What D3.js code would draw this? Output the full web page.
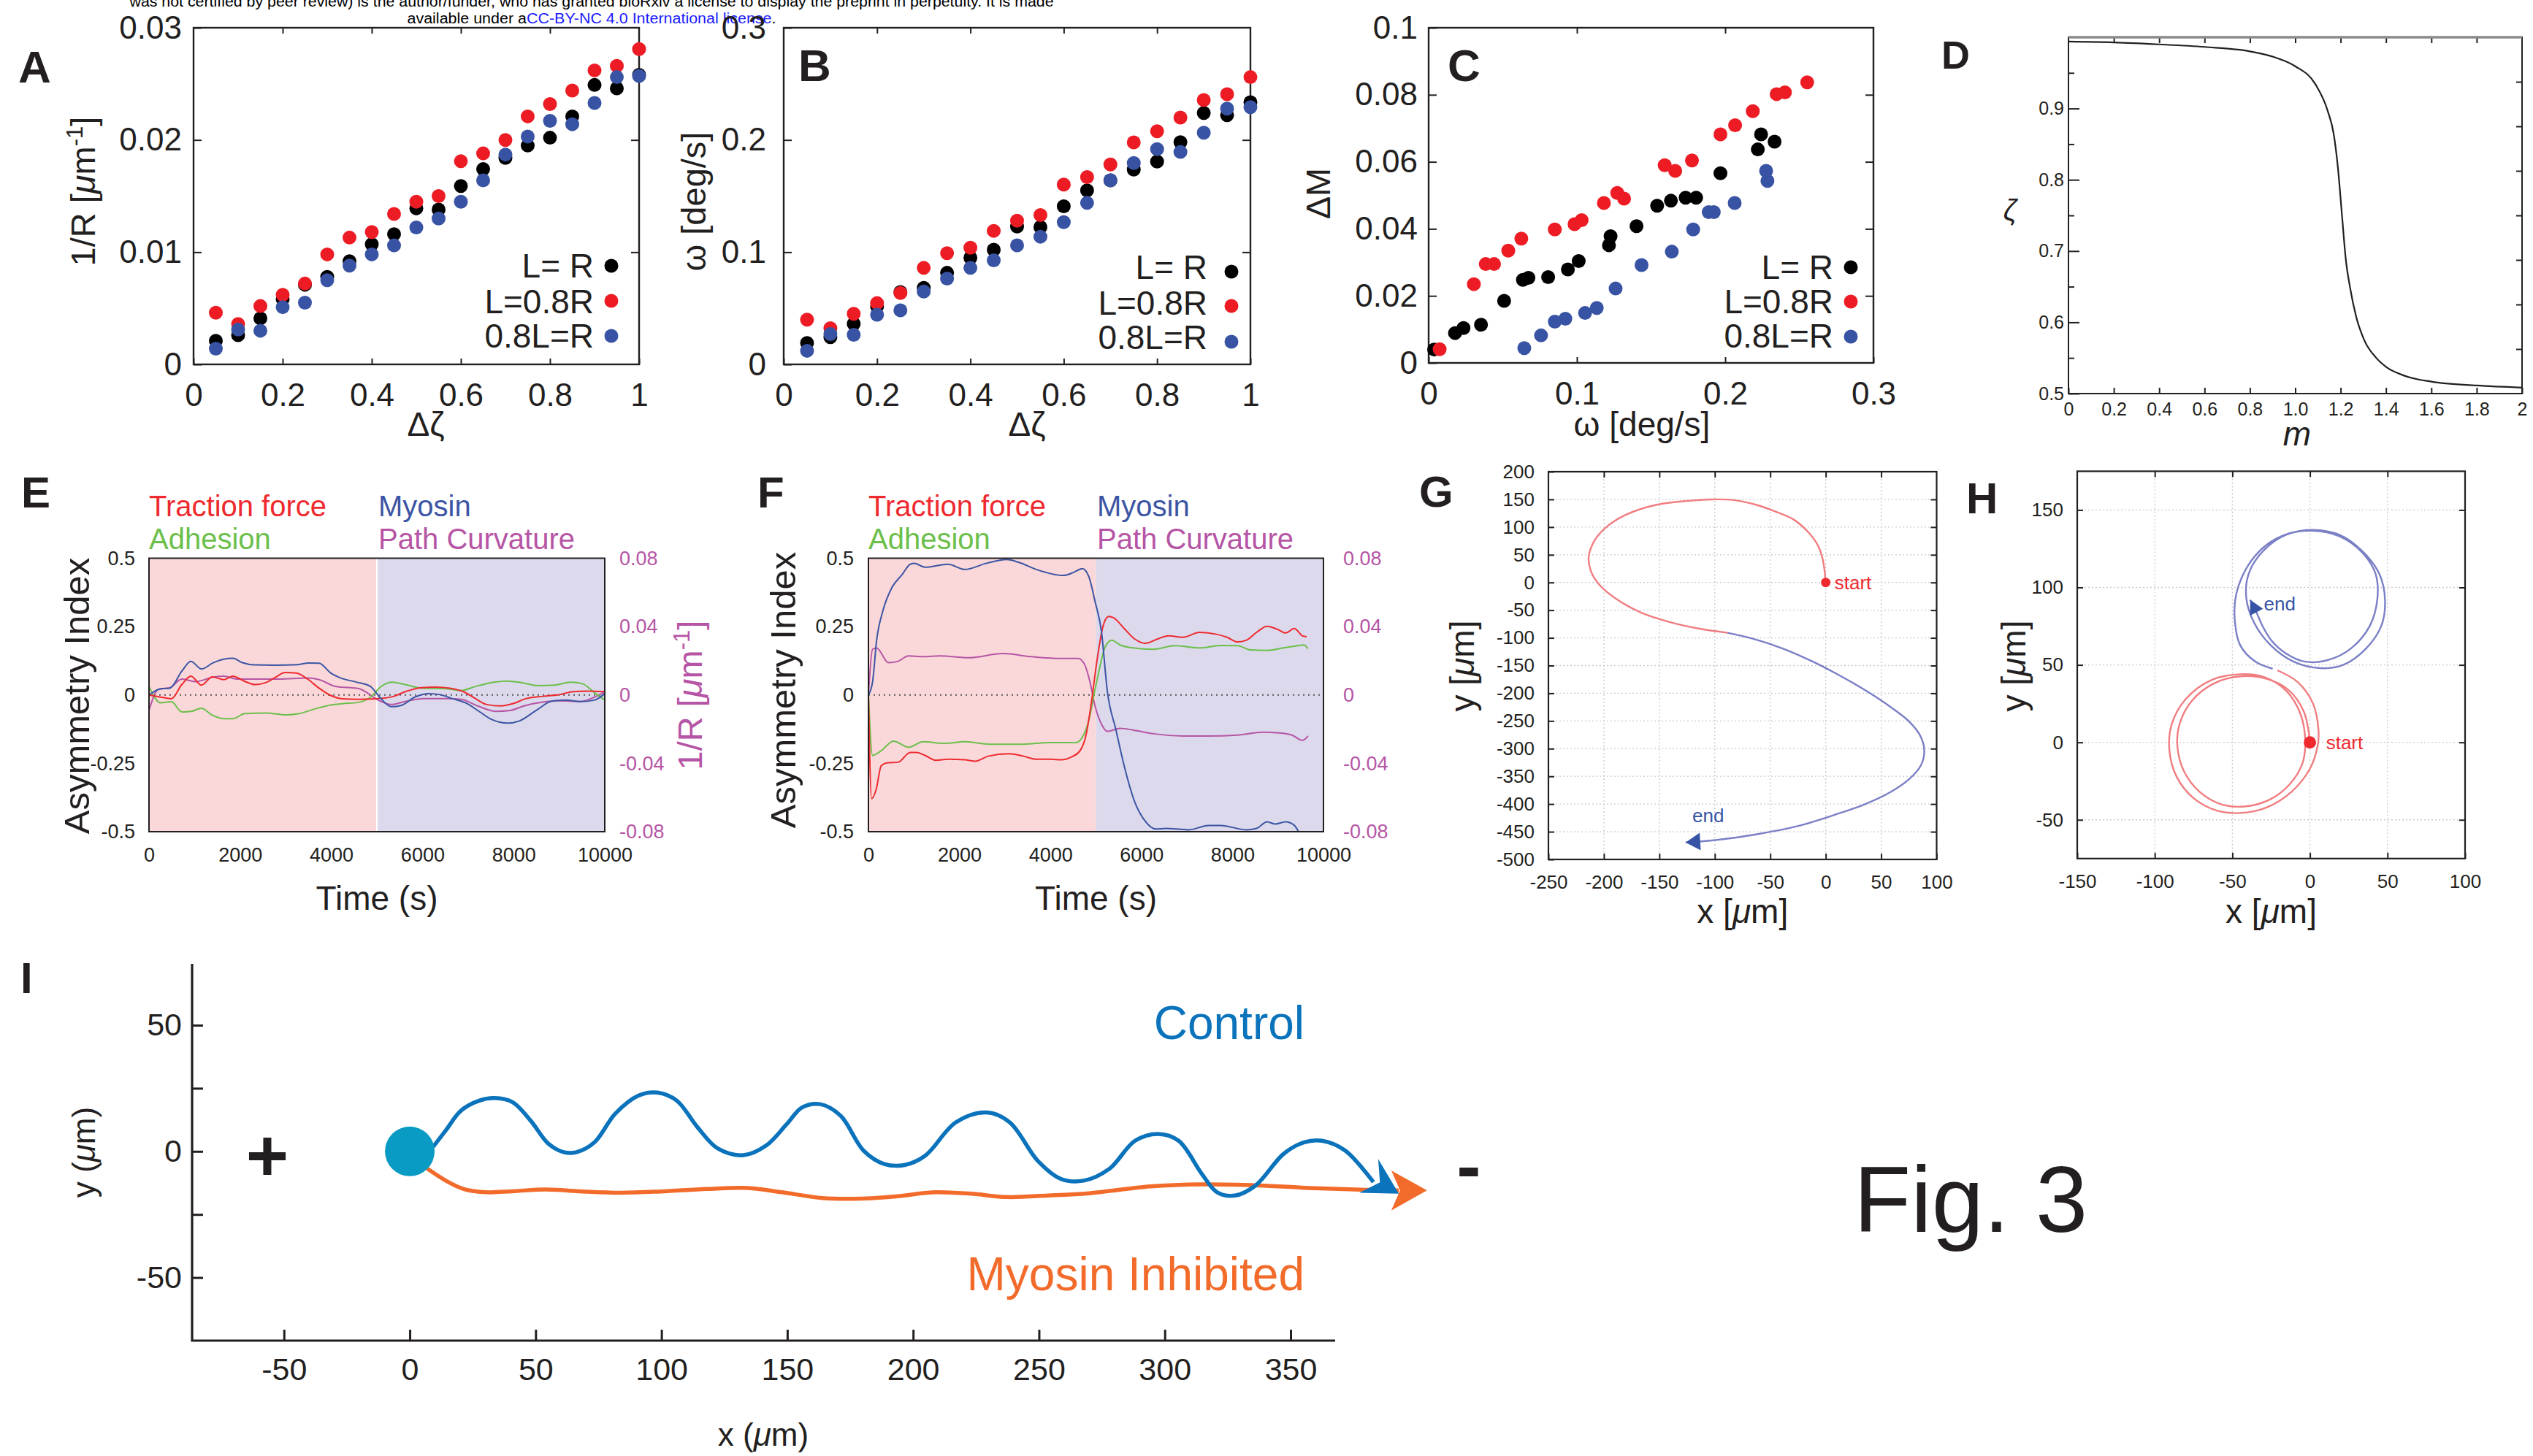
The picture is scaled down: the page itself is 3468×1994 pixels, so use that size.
<!DOCTYPE html>
<html>
<head>
<meta charset="utf-8">
<script src="https://cdn.jsdelivr.net/npm/d3@7"></script>
<style>
body { margin: 0; background: #fff; }
svg { display: block; font-family: "Liberation Sans", Arial, Helvetica, sans-serif; }
</style>
</head>
<body>
<svg id="fig" width="3468" height="1994"></svg>
<script>
// ---------- data ----------
// A / B : x = delta zeta
var dzeta = [0.05,0.1,0.15,0.2,0.25,0.3,0.35,0.4,0.45,0.5,0.55,0.6,0.65,0.7,0.75,0.8,0.85,0.9,0.95,1.0]
var aLR   = [0.0021,0.0026,0.0041,0.0058,0.0071,0.0078,0.0092,0.0107,0.0116,0.0139,0.0138,0.0159,0.0174,0.0184,0.0195,0.0202,0.0221,0.0249,0.0246,0.0258]
var aL08R = [0.0046,0.0036,0.0052,0.0062,0.0072,0.0098,0.0113,0.0118,0.0134,0.0145,0.0150,0.0181,0.0188,0.0200,0.0221,0.0232,0.0244,0.0262,0.0266,0.0281]
var a08LR = [0.0014,0.0031,0.0030,0.0051,0.0055,0.0075,0.0088,0.0098,0.0106,0.0122,0.0130,0.0145,0.0164,0.0187,0.0203,0.0217,0.0214,0.0233,0.0256,0.0257]
var bLR   = [0.0191,0.0242,0.0361,0.0515,0.0644,0.0682,0.0816,0.0950,0.1022,0.1228,0.1223,0.1409,0.1550,0.1640,0.1736,0.1808,0.1980,0.2240,0.2220,0.2336]
var bL08R = [0.0399,0.0322,0.0451,0.0546,0.0636,0.0860,0.0991,0.1040,0.1190,0.1280,0.1331,0.1602,0.1669,0.1782,0.1978,0.2078,0.2199,0.2356,0.2408,0.2560]
var b08LR = [0.0121,0.0270,0.0263,0.0443,0.0482,0.0649,0.0765,0.0860,0.0927,0.1061,0.1138,0.1267,0.1439,0.1640,0.1795,0.1918,0.1893,0.2065,0.2279,0.2292]
var abXTicks = [0,0.2,0.4,0.6,0.8,1]
var aYTicks = [0,0.01,0.02,0.03]
var bYTicks = [0,0.1,0.2,0.3]

// C : [omega, delta M]
var cLR = [[0.0037,0.0040],[0.0178,0.0089],[0.0235,0.0104],[0.0353,0.0114],[0.0509,0.0185],[0.0636,0.0248],[0.0673,0.0254],[0.0806,0.0256],[0.0939,0.0279],[0.1012,0.0304],[0.1216,0.0351],[0.1227,0.0378],[0.1402,0.0408],[0.1541,0.0469],[0.1634,0.0484],[0.1733,0.0493],[0.1804,0.0493],[0.1968,0.0566],[0.2220,0.0637],[0.2242,0.0682],[0.2333,0.0660]]
var cL08R = [[0.0074,0.0041],[0.0305,0.0235],[0.0385,0.0295],[0.0441,0.0295],[0.0537,0.0335],[0.0625,0.0371],[0.0851,0.0398],[0.0984,0.0414],[0.1032,0.0426],[0.1182,0.0477],[0.1272,0.0507],[0.1318,0.0490],[0.1592,0.0590],[0.1663,0.0573],[0.1776,0.0604],[0.1968,0.0682],[0.2067,0.0709],[0.2186,0.0751],[0.2347,0.0802],[0.2403,0.0807],[0.2553,0.0837]]
var c08LR = [[0.0645,0.0044],[0.0758,0.0082],[0.0851,0.0123],[0.0922,0.0132],[0.1055,0.0149],[0.1134,0.0164],[0.1261,0.0222],[0.1436,0.0292],[0.1640,0.0332],[0.1784,0.0398],[0.1889,0.0450],[0.1923,0.0450],[0.2064,0.0477],[0.2276,0.0573],[0.2285,0.0543]]
var cXTicks = [0,0.1,0.2,0.3]
var cYTicks = [0,0.02,0.04,0.06,0.08,0.1]

// D : [m, zeta]
var dCurve = [[0,0.9939],[0.2,0.9927],[0.4,0.990],[0.6,0.9864],[0.8,0.9802],[0.91,0.9718],[1.0,0.9593],[1.089,0.934],[1.143,0.8967],[1.17,0.8633],[1.188,0.8173],[1.206,0.7505],[1.223,0.6879],[1.241,0.650],[1.268,0.6086],[1.304,0.5752],[1.357,0.5501],[1.4,0.5376],[1.482,0.525],[1.6,0.5167],[1.8,0.5113],[2.0,0.5084]]
var dXTicks = [0,0.2,0.4,0.6,0.8,1,1.2,1.4,1.6,1.8,2]
var dXLabels = ["0","0.2","0.4","0.6","0.8","1.0","1.2","1.4","1.6","1.8","2"]
var dYTicks = [0.5,0.6,0.7,0.8,0.9]
var dYMinor = [0.55,0.65,0.75,0.85,0.95]
var dRightTicks = [0.5625,0.625,0.6875,0.75,0.8125,0.875,0.9375]

// E / F : [time, asymmetry] ; curvature in 1/R units
var eMyosin = [[0,0],[260,0.023],[460,0.025],[720,0.087],[920,0.123],[1150,0.095],[1410,0.118],[1640,0.131],[1840,0.134],[2050,0.118],[2300,0.110],[2760,0.109],[3270,0.111],[3500,0.117],[3730,0.116],[3990,0.080],[4190,0.063],[4550,0.047],[4860,0.031],[5060,-0.008],[5320,-0.043],[5540,-0.038],[5830,-0.008],[6140,0.005],[6390,0.001],[6650,-0.013],[6950,-0.029],[7260,-0.062],[7520,-0.090],[7870,-0.103],[8130,-0.095],[8490,-0.057],[8850,-0.022],[9150,-0.019],[9460,-0.024],[9770,-0.019],[10000,0.005]]
var eTraction = [[0,0],[260,-0.008],[490,-0.014],[720,0.038],[920,0.069],[1150,0.036],[1390,0.066],[1640,0.056],[1840,0.069],[2070,0.052],[2330,0.038],[2560,0.045],[2760,0.063],[2990,0.082],[3230,0.080],[3480,0.058],[3730,0.025],[3990,-0.002],[4240,-0.014],[4600,-0.016],[5060,-0.013],[5370,-0.005],[5620,0.012],[5980,0.027],[6290,0.029],[6600,0.025],[6900,0.012],[7160,-0.013],[7410,-0.035],[7720,-0.040],[7980,-0.032],[8280,-0.013],[8640,-0.005],[9000,0.001],[9300,0.012],[9610,0.014],[10000,0.012]]
var eAdhesion = [[0,0.031],[260,-0.029],[490,-0.025],[720,-0.062],[920,-0.060],[1150,-0.049],[1380,-0.073],[1640,-0.087],[1840,-0.087],[2100,-0.068],[2560,-0.066],[3020,-0.073],[3270,-0.069],[3680,-0.049],[3990,-0.037],[4240,-0.032],[4600,-0.027],[4860,-0.008],[5110,0.033],[5340,0.047],[5620,0.038],[5980,0.025],[6540,0.023],[6850,0.016],[7160,0.031],[7570,0.047],[7870,0.051],[8180,0.045],[8540,0.034],[8900,0.036],[9250,0.047],[9510,0.041],[9770,0.009],[10000,-0.019]]
var eCurvature = [[0,-0.0091],[200,0.0032],[460,0.0043],[720,0.0093],[1020,0.0078],[1430,0.0106],[1640,0.0110],[1940,0.0093],[2350,0.0093],[2860,0.0093],[3480,0.0099],[3730,0.0090],[4090,0.0050],[4600,0.0037],[5060,-0.0034],[5320,-0.0056],[5620,-0.0038],[6030,-0.0021],[6540,-0.0021],[6850,-0.0026],[7210,-0.0064],[7620,-0.0096],[7920,-0.0091],[8230,-0.0064],[8640,-0.0042],[9000,-0.0034],[9460,-0.0038],[9770,-0.0013],[10000,0.0019]]
var fMyosin = [[0,0],[90,0.047],[180,0.200],[320,0.309],[510,0.391],[740,0.440],[920,0.478],[1010,0.481],[1240,0.467],[1750,0.478],[2120,0.459],[2580,0.481],[3040,0.495],[3320,0.484],[3690,0.459],[4290,0.437],[4520,0.449],[4700,0.462],[4840,0.434],[4980,0.342],[5120,0.233],[5250,0.014],[5440,-0.128],[5620,-0.259],[5850,-0.390],[6080,-0.461],[6310,-0.490],[6540,-0.488],[6770,-0.490],[7050,-0.493],[7470,-0.477],[7740,-0.477],[8300,-0.493],[8530,-0.488],[8760,-0.464],[8940,-0.472],[9170,-0.464],[9360,-0.477],[9450,-0.499]]
var fTraction = [[0,0],[70,-0.379],[170,-0.346],[280,-0.259],[420,-0.248],[650,-0.246],[920,-0.210],[1060,-0.210],[1240,-0.221],[1480,-0.239],[1750,-0.235],[2120,-0.237],[2350,-0.242],[2630,-0.224],[3090,-0.215],[3410,-0.224],[3690,-0.235],[4010,-0.235],[4240,-0.237],[4470,-0.226],[4650,-0.204],[4770,-0.155],[4890,-0.040],[5020,0.123],[5160,0.254],[5280,0.287],[5390,0.282],[5620,0.243],[5850,0.205],[6080,0.189],[6360,0.205],[6590,0.216],[6910,0.211],[7280,0.229],[7650,0.222],[7880,0.211],[8110,0.194],[8300,0.200],[8530,0.229],[8760,0.251],[8990,0.240],[9170,0.227],[9360,0.243],[9540,0.216],[9630,0.213]]
var fAdhesion = [[0,0],[90,-0.221],[280,-0.204],[550,-0.169],[880,-0.191],[1200,-0.171],[1660,-0.177],[2120,-0.171],[2670,-0.180],[3410,-0.180],[3960,-0.174],[4560,-0.174],[4700,-0.155],[4840,-0.095],[4960,0.003],[5070,0.091],[5210,0.178],[5350,0.200],[5530,0.183],[5810,0.172],[6270,0.167],[6730,0.180],[7280,0.172],[7740,0.181],[8110,0.180],[8390,0.165],[8760,0.163],[9120,0.172],[9360,0.178],[9570,0.183],[9660,0.169]]
var fCurvature = [[0,0],[90,0.0267],[180,0.0275],[440,0.0189],[650,0.0197],[880,0.0229],[1200,0.0224],[1570,0.0229],[2210,0.0218],[2950,0.0242],[3590,0.0224],[4240,0.0214],[4610,0.0214],[4750,0.0179],[4870,0.0075],[4980,-0.0064],[5120,-0.0170],[5250,-0.0213],[5530,-0.0195],[5810,-0.0205],[6270,-0.0227],[6910,-0.0240],[7470,-0.0240],[8110,-0.0235],[8660,-0.0218],[9030,-0.0222],[9310,-0.0235],[9540,-0.0266],[9660,-0.0240]]
var timeTicks = [0,2000,4000,6000,8000,10000]
var asymTicks = [-0.5,-0.25,0,0.25,0.5]
var curvTicks = [-0.08,-0.04,0,0.04,0.08]

// G / H : [x, y] in micrometres
var gRed = [[0,0],[-2.5,40],[-6.9,66.4],[-15.3,89.9],[-28.8,113.5],[-45.6,128.2],[-62.4,140],[-82.6,148.8],[-102.7,150],[-126.3,147],[-153.2,140],[-180.1,122.3],[-198.6,98.7],[-208.6,75.2],[-213.7,45.8],[-212,22.2],[-205.3,-1.3],[-190.2,-27.8],[-166.6,-54.3],[-139.7,-72],[-112.8,-83.8],[-88.6,-90.8]]
var gBlue = [[-88.6,-90.8],[-65.8,-101.4],[-38.9,-119.1],[-11.9,-142.6],[8.2,-163.2],[35.1,-193.9],[58.7,-225.1],[75.5,-251.6],[85.6,-278.1],[88.9,-304.5],[85.6,-331],[75.5,-354.6],[58.7,-378.1],[35.1,-400.5],[8.2,-419.3],[-25.4,-439.9],[-59,-453.5],[-85.9,-461.7],[-106.1,-466.4],[-126.3,-469.4]]
var gXTicks = [-250,-200,-150,-100,-50,0,50,100]
var gYTicks = [-500,-450,-400,-350,-300,-250,-200,-150,-100,-50,0,50,100,150,200]
var hRed = [[0,0],[-4,20],[-14,34],[-28,41],[-45,42.6],[-62,38],[-76,27],[-84,12],[-85.4,-3],[-81,-19],[-71,-32],[-57,-40],[-42,-41.4],[-26,-37],[-13,-27],[-5,-14],[-3,0],[-6,18],[-15,33],[-29,42],[-45,44],[-64,40],[-80,28],[-89,12],[-90.6,-5],[-86,-22],[-75,-36],[-60,-44],[-45,-45.6],[-28,-42],[-12,-32],[0,-17],[5,-2],[5.5,8],[2,25],[-8,39],[-21,46.5]]
var hBlue = [[-24,47.5],[-35,52],[-44.9,62.6],[-48.6,81.5],[-47.4,96.2],[-40,114],[-27.7,127.7],[-13,135],[1.8,137.2],[19,134],[33.7,123.5],[44.7,108.8],[48.4,92],[46,75.2],[36.1,60.5],[21.4,50],[6.7,47.9],[-10.5,52.1],[-25.2,62.6],[-36,77.3],[-41,93],[-39.5,108.8],[-30.2,123.5],[-15.4,134],[1.8,136.6],[19,133],[33.7,122.5],[42.3,108.8],[43.5,93],[38.6,75.2],[26.3,60.5],[11.6,53.2],[-3.1,52.1],[-15.4,57.4],[-25,66],[-31,76],[-34.5,84],[-38.5,92]]
var hXTicks = [-150,-100,-50,0,50,100]
var hYTicks = [-50,0,50,100,150]

// I : [x, y] in micrometres
var iControl = [[9.2,1.7],[14.3,8.3],[20.4,16.2],[27.6,20.1],[33.7,21.1],[40.8,19.5],[48,12.2],[55.1,3],[61.2,-0.3],[66.3,-0.3],[73.5,3.7],[81.6,14.9],[90.8,22.1],[98.4,23.3],[106.1,20.1],[114.3,9.6],[122.4,1.1],[132.6,-1.5],[141.6,2.3],[149.8,10.8],[155.9,17.4],[163,18.7],[171.2,14.1],[180.3,0.3],[188.5,-5],[196.6,-5.4],[204.8,-1.7],[217,11.5],[229.2,15.4],[238.4,11.5],[249.5,-3.7],[258.7,-10.9],[267.8,-11.6],[278,-6.9],[288.2,4.2],[297.4,6.9],[305.5,4.2],[314.7,-8.9],[320.8,-16.2],[327.9,-17.5],[336.1,-13.5],[347.2,-1],[355.4,3.6],[362.5,4.2],[371.7,0.3],[382.9,-12.2]]
var iInhibited = [[6.2,-6.3],[14.3,-11.6],[21.4,-14.9],[30.6,-16.2],[40.8,-15.8],[54,-15.1],[67.2,-15.8],[83.5,-16.4],[99.8,-15.9],[118.1,-14.9],[134.4,-14.5],[147.8,-16.2],[164,-18.5],[176.3,-18.8],[192.5,-17.9],[208.8,-16.2],[223.1,-16.8],[237.3,-18.1],[253.6,-17.5],[269.9,-16.6],[294.3,-13.9],[314.7,-13.1],[337.1,-13.5],[357.4,-14.5],[377.8,-15.2],[393,-15.5]]
var iControlHead = [[384.8,-3],[393,-16.8],[377.3,-16.4],[385.5,-12.3]]
var iInhibitedHead = [[390,-7.6],[404.2,-15.5],[390,-23.4],[393.5,-15.5]]
var iXTicks = [-50,0,50,100,150,200,250,300,350]
var iYTicks = [-50,-25,0,25,50]

// ---------- drawing ----------
const INK = "#231f20"
const RED = "#ed1c24", BLUE = "#3953a4"
const svg = d3.select("#fig")

const styleAxis = (sel, size, color) => {
    sel.attr("font-size", size).attr("font-family", null).style("color", color || INK)
    sel.select(".domain").remove()
    sel.selectAll(".tick line").attr("stroke-width", 2)
}

// text with optional tspans: parts = [[string, {attrs}], ...]
const rich = (g, x, y, size, parts, o = {}) => {
    const t = g.append("text").attr("x", x).attr("y", y).attr("font-size", size)
        .attr("fill", o.fill || INK).attr("text-anchor", o.anchor || "start")
    if (o.weight) t.attr("font-weight", o.weight)
    if (o.italic) t.attr("font-style", "italic")
    if (o.rotate) t.attr("transform", `rotate(-90,${x},${y})`)
    parts.forEach(p => {
        const s = t.append("tspan").text(p[0])
        if (p[1]) Object.entries(p[1]).forEach(([k, v]) => s.attr(k, v))
    })
    return t
}
const it = { "font-style": "italic" }
const fmt = d => String(d)

// header
const hdr = svg.append("g")
rich(hdr, 810, 9, 20, [["was not certified by peer review) is the author/funder, who has granted bioRxiv a license to display the preprint in perpetuity. It is made"]], { anchor: "middle" })
    .attr("fill", "#000").attr("textLength", 1265).attr("lengthAdjust", "spacingAndGlyphs")
rich(hdr, 810, 32, 20, [["available under a"], ["CC-BY-NC 4.0 International license", { fill: "#1a1aff" }], ["."]], { anchor: "middle" })
    .attr("fill", "#000").attr("textLength", 505).attr("lengthAdjust", "spacingAndGlyphs")

// ---------- scatter panels A, B, C ----------
var scatter = p => {
    const g = svg.append("g")
    const x = d3.scaleLinear().domain(p.xd).range([p.l, p.r])
    const y = d3.scaleLinear().domain(p.yd).range([p.b, p.t])
    const inner = p.xt.filter(d => d > p.xd[0] && d < p.xd[1])
    const innerY = p.yt.filter(d => d > p.yd[0] && d < p.yd[1])
    g.append("g").attr("transform", `translate(0,${p.b})`)
        .call(d3.axisBottom(x).tickValues(p.xt).tickSize(-8).tickPadding(26).tickFormat(fmt)).call(styleAxis, 44)
    g.append("g").attr("transform", `translate(0,${p.t})`)
        .call(d3.axisTop(x).tickValues(inner).tickSize(-8).tickFormat("")).call(styleAxis, 44)
    g.append("g").attr("transform", `translate(${p.l},0)`)
        .call(d3.axisLeft(y).tickValues(p.yt).tickSize(-11).tickPadding(p.ypad).tickFormat(fmt)).call(styleAxis, 44)
    g.append("g").attr("transform", `translate(${p.r},0)`)
        .call(d3.axisRight(y).tickValues(innerY).tickSize(-11).tickFormat("")).call(styleAxis, 44)
    g.append("rect").attr("x", p.l).attr("y", p.t).attr("width", p.r - p.l).attr("height", p.b - p.t)
        .attr("fill", "none").attr("stroke", INK).attr("stroke-width", 2.4)

    p.series.forEach(s => {
        g.append("g").selectAll("circle").data(s.data).join("circle")
            .attr("cx", d => x(d[0])).attr("cy", d => y(d[1])).attr("r", 9.5).attr("fill", s.color)
    })
    p.legend.rows.forEach((r, i) => {
        rich(g, p.legend.xt, r[1], 46, [[r[0]]], { anchor: "end" })
        g.append("circle").attr("cx", p.legend.xd).attr("cy", r[2]).attr("r", 9.5).attr("fill", p.series[i].color)
    })
    rich(g, p.letter[1], p.letter[2], 62, [[p.letter[0]]], { weight: "bold" })
    rich(g, p.xTitle[0], 597, 46, p.xTitle[1], { anchor: "middle" })
    rich(g, p.yTitle[0], p.yTitle[1], 47, p.yTitle[2], { anchor: "middle", rotate: true })
}

const zipDz = arr => dzeta.map((d, i) => [d, arr[i]])
const legendRows = ["L= R", "L=0.8R", "0.8L=R"]

scatter({ l: 265, r: 875, t: 38, b: 499, xd: [0, 1], yd: [0, 0.03], xt: abXTicks, yt: aYTicks, ypad: 16,
    series: [{ data: zipDz(aLR), color: "#000" }, { data: zipDz(aL08R), color: RED }, { data: zipDz(a08LR), color: BLUE }],
    legend: { xt: 813, xd: 837, rows: [[legendRows[0], 380, 364], [legendRows[1], 429, 412], [legendRows[2], 476, 460]] },
    letter: ["A", 25, 113], xTitle: [583, [["Δζ"]]],
    yTitle: [130, 262, [["1/R ["], ["μ", it], ["m"], ["-1", { dy: -17, "font-size": 31 }], ["]", { dy: 17, "font-size": 47 }]]] })

scatter({ l: 1073, r: 1712, t: 38, b: 499, xd: [0, 1], yd: [0, 0.3], xt: abXTicks, yt: bYTicks, ypad: 24,
    series: [{ data: zipDz(bLR), color: "#000" }, { data: zipDz(bL08R), color: RED }, { data: zipDz(b08LR), color: BLUE }],
    legend: { xt: 1653, xd: 1686, rows: [[legendRows[0], 382, 372], [legendRows[1], 431, 419], [legendRows[2], 478, 468]] },
    letter: ["B", 1093, 111], xTitle: [1406, [["Δζ"]]],
    yTitle: [966, 276, [["ω [deg/s]"]]] })

scatter({ l: 1956, r: 2565, t: 38, b: 497, xd: [0, 0.3], yd: [0, 0.1], xt: cXTicks, yt: cYTicks, ypad: 15,
    series: [{ data: cLR, color: "#000" }, { data: cL08R, color: RED }, { data: c08LR, color: BLUE }],
    legend: { xt: 2510, xd: 2534, rows: [[legendRows[0], 382, 366], [legendRows[1], 429, 413], [legendRows[2], 476, 461]] },
    letter: ["C", 1982, 111], xTitle: [2248, [["ω [deg/s]"]]],
    yTitle: [1821, 265, [["ΔM"]]] })

// ---------- panel D ----------
{
    const g = svg.append("g")
    const l = 2832, r = 3453, t = 51, b = 539
    const x = d3.scaleLinear().domain([0, 2]).range([l, r])
    const y = d3.scaleLinear().domain([0.5, 1]).range([b, t])
    g.append("g").attr("transform", `translate(0,${b})`)
        .call(d3.axisBottom(x).tickValues(dXTicks).tickSize(-8).tickPadding(12).tickFormat(d => dXLabels[dXTicks.indexOf(d)])).call(styleAxis, 25)
    g.append("g").attr("transform", `translate(0,${t})`)
        .call(d3.axisTop(x).tickValues(dXTicks.slice(1, -1)).tickSize(-8).tickFormat("")).call(styleAxis, 25)
    g.append("g").attr("transform", `translate(${l},0)`)
        .call(d3.axisLeft(y).tickValues(dYTicks).tickSize(-15).tickPadding(6).tickFormat(fmt)).call(styleAxis, 25)
    g.append("g").attr("transform", `translate(${l},0)`)
        .call(d3.axisLeft(y).tickValues(dYMinor).tickSize(-8).tickFormat("")).call(styleAxis, 25)
    g.append("g").attr("transform", `translate(${r},0)`)
        .call(d3.axisRight(y).tickValues(dRightTicks).tickSize(-8).tickFormat("")).call(styleAxis, 25)
    g.append("rect").attr("x", l).attr("y", t).attr("width", r - l).attr("height", b - t)
        .attr("fill", "none").attr("stroke", INK).attr("stroke-width", 2)
    g.append("line").attr("x1", l).attr("x2", r).attr("y1", t).attr("y2", t).attr("stroke", "#8a8a8a").attr("stroke-width", 3.5)
    g.append("path").datum(dCurve)
        .attr("d", d3.line().x(d => x(d[0])).y(d => y(d[1])).curve(d3.curveMonotoneX))
        .attr("fill", "none").attr("stroke", INK).attr("stroke-width", 2.2)
    rich(g, 2658, 94, 54, [["D"]], { weight: "bold" })
    rich(g, 2752, 302, 40, [["ζ"]], { anchor: "middle", italic: true })
    rich(g, 3145, 610, 46, [["m"]], { anchor: "middle", italic: true })
}

// ---------- time panels E, F ----------
const COL = { tr: "#ee2a2f", my: "#3b55a4", ad: "#6cbf4a", pc: "#b655a5" }
var timePanel = p => {
    const g = svg.append("g")
    const x = d3.scaleLinear().domain([0, 10000]).range([p.l, p.r])
    const y = d3.scaleLinear().domain([-0.5, 0.5]).range([p.b, p.t])
    const y2 = d3.scaleLinear().domain([-0.08, 0.08]).range([p.b, p.t])
    g.append("rect").attr("x", x(0)).attr("y", p.t).attr("width", x(5000) - x(0)).attr("height", p.b - p.t).attr("fill", "#fad8da")
    g.append("rect").attr("x", x(5000)).attr("y", p.t).attr("width", x(10000) - x(5000)).attr("height", p.b - p.t).attr("fill", "#dcd9ec")
    if (p.gap) g.append("line").attr("x1", x(5000)).attr("x2", x(5000)).attr("y1", p.t).attr("y2", p.b).attr("stroke", "#fff").attr("stroke-width", 2)
    g.append("line").attr("x1", p.l).attr("x2", p.r).attr("y1", y(0)).attr("y2", y(0))
        .attr("stroke", "#555").attr("stroke-width", 1.8).attr("stroke-dasharray", "2 5")

    const line = d3.line().x(d => x(d[0])).y(d => y(d[1])).curve(d3.curveMonotoneX)
    const line2 = d3.line().x(d => x(d[0])).y(d => y2(d[1])).curve(d3.curveMonotoneX)
    const draw = (data, gen, c) => g.append("path").datum(data).attr("d", gen)
        .attr("fill", "none").attr("stroke", c).attr("stroke-width", 2)
    draw(p.pc, line2, COL.pc)
    draw(p.ad, line, COL.ad)
    draw(p.tr, line, COL.tr)
    draw(p.my, line, COL.my)

    g.append("rect").attr("x", p.l).attr("y", p.t).attr("width", p.r - p.l).attr("height", p.b - p.t)
        .attr("fill", "none").attr("stroke", INK).attr("stroke-width", 2)
    g.append("g").attr("transform", `translate(0,${p.b})`)
        .call(d3.axisBottom(x).tickValues(timeTicks).tickSize(0).tickPadding(22).tickFormat(fmt)).call(styleAxis, 27)
    g.append("g").attr("transform", `translate(${p.l},0)`)
        .call(d3.axisLeft(y).tickValues(asymTicks).tickSize(0).tickPadding(p.lpad).tickFormat(fmt)).call(styleAxis, 27)
    g.append("g").attr("transform", `translate(${p.r},0)`)
        .call(d3.axisRight(y2).tickValues(curvTicks).tickSize(0).tickPadding(p.rpad).tickFormat(fmt)).call(styleAxis, 27, COL.pc)

    rich(g, p.lx1, 707, 40, [["Traction force"]], { fill: COL.tr })
    rich(g, p.lx2, 707, 40, [["Myosin"]], { fill: COL.my })
    rich(g, p.lx1, 752, 40, [["Adhesion"]], { fill: COL.ad })
    rich(g, p.lx2, 752, 40, [["Path Curvature"]], { fill: COL.pc })
    rich(g, p.letter[1], 695, 60, [[p.letter[0]]], { weight: "bold" })
    rich(g, p.aix, p.aiy, 49, [["Asymmetry Index"]], { anchor: "middle", rotate: true })
    rich(g, (p.l + p.r) / 2, 1246, 46, [["Time (s)"]], { anchor: "middle" })
    if (p.rightTitle)
        rich(g, 961, 952, 47, [["1/R ["], ["μ", it], ["m"], ["-1", { dy: -17, "font-size": 31 }], ["]", { dy: 17, "font-size": 47 }]],
            { anchor: "middle", rotate: true, fill: COL.pc })
}

timePanel({ l: 204, r: 828, t: 764.5, b: 1139, lpad: 19, rpad: 20, lx1: 204, lx2: 518, gap: true, rightTitle: true,
    letter: ["E", 29], aix: 122, aiy: 953, my: eMyosin, tr: eTraction, ad: eAdhesion, pc: eCurvature })
timePanel({ l: 1189, r: 1812, t: 764.5, b: 1139, lpad: 20, rpad: 27, lx1: 1189, lx2: 1502, gap: false, rightTitle: false,
    letter: ["F", 1037], aix: 1089, aiy: 945, my: fMyosin, tr: fTraction, ad: fAdhesion, pc: fCurvature })

// ---------- track panels G, H ----------
const defs = svg.append("defs")
const mk = (id, len, half) => defs.append("marker").attr("id", id)
    .attr("viewBox", `${-len - 2} ${-half - 2} ${len + 4} ${2 * half + 4}`)
    .attr("refX", 0).attr("refY", 0).attr("markerUnits", "userSpaceOnUse")
    .attr("markerWidth", len + 4).attr("markerHeight", 2 * half + 4).attr("orient", "auto")
    .append("path").attr("d", `M0,0L${-len},${-half}L${-len},${half}Z`).attr("fill", "#3653a5")
mk("headG", 20, 12)
mk("headH", 19, 10)

var trackPanel = p => {
    const g = svg.append("g")
    const x = d3.scaleLinear().domain(p.xd).range([p.l, p.r])
    const y = d3.scaleLinear().domain(p.yd).range([p.b, p.t])
    const ix = p.xt.filter(d => d > p.xd[0] && d < p.xd[1])
    const iy = p.yt.filter(d => d > p.yd[0] && d < p.yd[1])
    g.append("g").selectAll("line.gx").data(ix).join("line")
        .attr("x1", d => x(d)).attr("x2", d => x(d)).attr("y1", p.t).attr("y2", p.b)
        .attr("stroke", "#c9c9c9").attr("stroke-width", 1.3).attr("stroke-dasharray", "2 3")
    g.append("g").selectAll("line.gy").data(iy).join("line")
        .attr("y1", d => y(d)).attr("y2", d => y(d)).attr("x1", p.l).attr("x2", p.r)
        .attr("stroke", "#c9c9c9").attr("stroke-width", 1.3).attr("stroke-dasharray", "2 3")
    g.append("g").attr("transform", `translate(0,${p.b})`)
        .call(d3.axisBottom(x).tickValues(p.xt).tickSize(-8).tickPadding(22).tickFormat(fmt)).call(styleAxis, 26)
    g.append("g").attr("transform", `translate(0,${p.t})`)
        .call(d3.axisTop(x).tickValues(ix).tickSize(-8).tickFormat("")).call(styleAxis, 26)
    g.append("g").attr("transform", `translate(${p.l},0)`)
        .call(d3.axisLeft(y).tickValues(p.yt).tickSize(-8).tickPadding(19).tickFormat(fmt)).call(styleAxis, 26)
    g.append("g").attr("transform", `translate(${p.r},0)`)
        .call(d3.axisRight(y).tickValues(iy).tickSize(-8).tickFormat("")).call(styleAxis, 26)
    g.append("rect").attr("x", p.l).attr("y", p.t).attr("width", p.r - p.l).attr("height", p.b - p.t)
        .attr("fill", "none").attr("stroke", INK).attr("stroke-width", 2.2)

    const line = d3.line().x(d => x(d[0])).y(d => y(d[1])).curve(d3.curveCatmullRom)
    g.append("path").datum(p.red).attr("d", line).attr("fill", "none").attr("stroke", "#f07d80").attr("stroke-width", 2.4)
    g.append("path").datum(p.blue).attr("d", line).attr("fill", "none").attr("stroke", "#7a7fc6").attr("stroke-width", 2.4)
        .attr("marker-end", `url(#${p.head})`)
    g.append("circle").attr("cx", x(0)).attr("cy", y(0)).attr("r", p.dot).attr("fill", "#ee2a2f")
    rich(g, x(p.startX), y(0) + 9, 26, [["start"]], { fill: "#ee2a2f" })
    rich(g, x(p.endPos[0]), y(p.endPos[1]) + 9, 26, [["end"]], { fill: "#3653a5", anchor: p.endAnchor })

    rich(g, p.letter[1], p.letter[2], 60, [[p.letter[0]]], { weight: "bold" })
    rich(g, (p.l + p.r) / 2, 1264, 46, [["x ["], ["μ", it], ["m]"]], { anchor: "middle" })
    rich(g, p.ytx, 912, 46, [["y ["], ["μ", it], ["m]"]], { anchor: "middle", rotate: true })
}

trackPanel({ l: 2120, r: 2651.5, t: 646, b: 1177, xd: [-250, 100], yd: [-500, 200], xt: gXTicks, yt: gYTicks,
    red: gRed, blue: gBlue, head: "headG", dot: 6.5, startX: 8, endPos: [-106, -420.5], endAnchor: "middle",
    letter: ["G", 1943, 694], ytx: 2018 })
trackPanel({ l: 2844, r: 3375, t: 645.4, b: 1175.8, xd: [-150, 100], yd: [-75, 175], xt: hXTicks, yt: hYTicks,
    red: hRed, blue: hBlue, head: "headH", dot: 8.5, startX: 10.4, endPos: [-29.7, 89.5], endAnchor: "start",
    letter: ["H", 2692, 703], ytx: 2773 })

// ---------- panel I ----------
{
    const g = svg.append("g")
    const x = d3.scaleLinear().domain([-86.5, 367.7]).range([263, 1828])
    const y = d3.scaleLinear().domain([-75, 74.3]).range([1836, 1320])
    g.append("g").attr("transform", `translate(0,${y(-75)})`)
        .call(d3.axisBottom(x).tickValues(iXTicks).tickSize(-15).tickPadding(23).tickFormat(fmt)).call(styleAxis, 43)
    g.append("g").attr("transform", `translate(${x(-86.5)},0)`)
        .call(d3.axisLeft(y).tickValues(iYTicks).tickSize(-15).tickPadding(14).tickFormat(d => d % 50 === 0 ? String(d) : "")).call(styleAxis, 43)
    g.selectAll(".tick line").attr("stroke-width", 3)
    g.append("path").attr("d", `M${x(-86.5)},${y(74.3)}V${y(-75)}H${x(367.7)}`)
        .attr("fill", "none").attr("stroke", INK).attr("stroke-width", 3.2)

    const line = d3.line().x(d => x(d[0])).y(d => y(d[1])).curve(d3.curveCatmullRom)
    const poly = d3.line().x(d => x(d[0])).y(d => y(d[1]))
    g.append("path").datum(iInhibited).attr("d", line).attr("fill", "none").attr("stroke", "#f26b2a").attr("stroke-width", 5.5)
    g.append("path").datum(iControl).attr("d", line).attr("fill", "none").attr("stroke", "#0a73bb").attr("stroke-width", 5.5)
    g.append("path").datum(iControlHead).attr("d", d => poly(d) + "Z").attr("fill", "#0a73bb")
    g.append("path").datum(iInhibitedHead).attr("d", d => poly(d) + "Z").attr("fill", "#f26b2a")
    g.append("circle").attr("cx", x(0)).attr("cy", y(0)).attr("r", 34).attr("fill", "#0a9bc4")

    rich(g, 1786, 1423, 64, [["Control"]], { anchor: "end", fill: "#0a73bb" })
    rich(g, 1786, 1767, 64, [["Myosin Inhibited"]], { anchor: "end", fill: "#f26b2a" })
    rich(g, 366, 1617, 100, [["+"]], { anchor: "middle", weight: "bold" })
    rich(g, 2011, 1631, 100, [["-"]], { anchor: "middle", weight: "bold" })
    rich(g, 28, 1360, 60, [["I"]], { weight: "bold" })
    rich(g, 1045, 1980, 44, [["x ("], ["μ", it], ["m)"]], { anchor: "middle" })
    rich(g, 130, 1578, 44, [["y ("], ["μ", it], ["m)"]], { anchor: "middle", rotate: true })
    rich(g, 2538, 1687, 128, [["Fig. 3"]])
}
</script>
</body>
</html>
